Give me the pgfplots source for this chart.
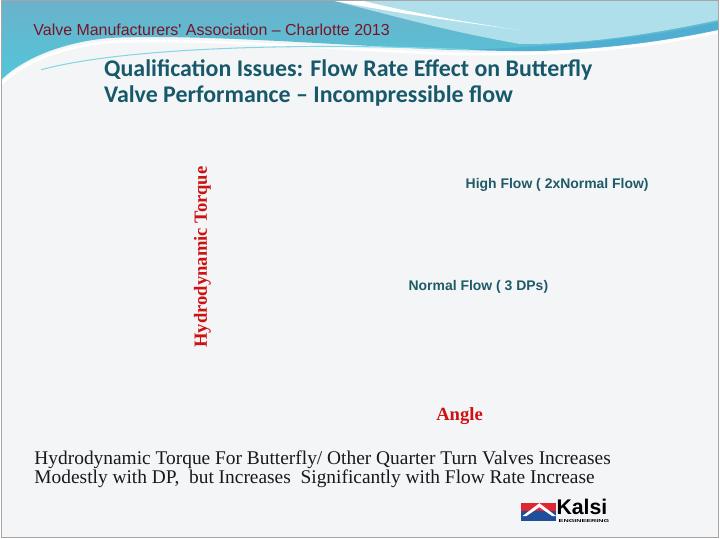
\documentclass[border=0pt]{standalone}
\usepackage{pgfplots}
\pgfplotsset{compat=1.18}
\usepackage{fontspec}
\setmainfont{Liberation Serif}
\newfontfamily\arial{Liberation Sans}
\newfontfamily\calibri{Carlito}
\definecolor{bgc}{HTML}{F4F5F6}
\definecolor{topblue}{HTML}{6AB2CA}
\definecolor{cyanb}{HTML}{52C6DA}
\definecolor{lightb}{HTML}{AEDFEA}
\definecolor{darkb}{HTML}{4FAED2}
\definecolor{titlec}{HTML}{17596B}
\definecolor{headc}{HTML}{7A1424}
\definecolor{redl}{HTML}{CC1111}
\definecolor{tealc}{HTML}{1E5A68}
\definecolor{kred}{HTML}{E0262E}
\definecolor{kblue}{HTML}{1F4E9A}
\begin{document}
\begin{tikzpicture}
\begin{scope}[x=0.75pt,y=-0.75pt]
\fill[bgc] (0,0) rectangle (720,540);
% top coloured band
\shade[top color=topblue, bottom color=cyanb] (0,0) -- (720,0) -- (720,28)
  .. controls (640,45) and (560,52) .. (450,50)
  .. controls (330,45) and (200,34) .. (110,38)
  .. controls (60,42) and (20,60) .. (0,80) -- cycle;
% light right area
\fill[lightb] (330,0) -- (720,0) -- (720,20) .. controls (650,35) and (580,45) .. (520,44)
  .. controls (440,30) and (380,12) .. (330,0) -- cycle;
% white swoosh top right
\fill[white] (330,0) .. controls (400,14) and (460,22) .. (520,30)
  .. controls (450,20) and (390,8) .. (360,0) -- cycle;
% darker blue swoosh right
\fill[darkb] (470,50) .. controls (560,46) and (640,40) .. (720,22) -- (720,32)
  .. controls (640,48) and (560,54) .. (470,50) -- cycle;
% white lower area under band
\fill[bgc] (0,82) .. controls (20,62) and (60,44) .. (110,40)
  .. controls (200,36) and (330,47) .. (450,52)
  .. controls (560,54) and (640,47) .. (720,30) -- (720,120) -- (0,120) -- cycle;
\draw[white, line width=2pt] (0,84) .. controls (20,64) and (60,46) .. (110,42)
  .. controls (200,38) and (330,49) .. (450,54)
  .. controls (560,56) and (640,49) .. (720,32);
\draw[cyanb!70, line width=0.8pt] (40,70) .. controls (120,48) and (300,42) .. (470,50);
% frame
\draw[gray!70, line width=0.8pt] (0.5,0.5) rectangle (719.5,539.5);
% header
\node[anchor=base west, inner sep=0pt, text=headc, font=\arial\fontsize{12pt}{14pt}\selectfont] at (32,36) {Valve Manufacturers' Association – Charlotte 2013};
% title
\node[anchor=base west, inner sep=0pt, text=titlec, align=left, font=\calibri\bfseries\fontsize{18pt}{19.5pt}\selectfont] at (103,103) {Qualification Issues: Flow Rate Effect on Butterfly\\Valve Performance – Incompressible flow};
% bottom text
\node[anchor=base west, inner sep=0pt, text=black!90, align=left, font=\fontsize{14.6pt}{12.75pt}\selectfont] at (33,485) {Hydrodynamic Torque For Butterfly/ Other Quarter Turn Valves Increases\\Modestly with DP,\ \ but Increases\ \ Significantly with Flow Rate Increase};
% logo
\fill[kred] (522,505) rectangle (557,513);
\fill[kblue] (522,513) rectangle (557,523);
\fill[white] (523,518) -- (540,505) -- (557,518) -- (553,518) -- (540,509) -- (527,518) -- cycle;
\node[anchor=base west, inner sep=0pt, font=\arial\bfseries\fontsize{16pt}{17pt}\selectfont] at (557,516.5) {Kalsi};
\node[anchor=north west, inner sep=0pt, xscale=1.7, font=\arial\bfseries\fontsize{3.2pt}{4pt}\selectfont] at (559,521.5) {ENGINEERING};
\end{scope}
\begin{axis}[
  at={(161.25pt,-300pt)}, anchor=south west,
  scale only axis, width=363.75pt, height=187.5pt,
  xmin=0, xmax=1, ymin=0, ymax=1,
  axis line style={draw=none}, ticks=none,
  xlabel={Angle}, ylabel={Hydrodynamic Torque},
  label style={text=redl, font=\bfseries\fontsize{14pt}{15pt}\selectfont},
  xlabel style={at={(axis description cs:0.505,-0.072)}, anchor=center},
  ylabel style={at={(axis description cs:-0.027,0.568)}, anchor=center},
  clip=false,
]
\node[text=tealc, font=\arial\bfseries\fontsize{10.5pt}{12pt}\selectfont] at (axis cs:0.707,0.856) {High Flow ( 2xNormal Flow)};
\node[text=tealc, font=\arial\bfseries\fontsize{10.5pt}{12pt}\selectfont] at (axis cs:0.544,0.448) {Normal Flow ( 3 DPs)};
\end{axis}
\end{tikzpicture}
\end{document}
